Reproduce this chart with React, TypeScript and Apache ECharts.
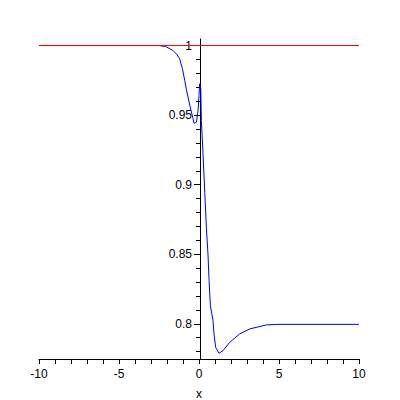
import React, { useEffect, useRef } from "react";
import * as echarts from "echarts";

const curveX = [-10, -2.5, -2.08, -1.62, -1.38, -1.21, -1.04, -0.89, -0.79, -0.58, -0.375, -0.31, -0.16, -0.06, 0.0, 0.04, 0.11, 0.15, 0.25, 0.36, 0.46, 0.56, 0.63, 0.71, 0.875, 0.94, 1.04, 1.25, 1.5, 1.92, 2.54, 3.17, 4.21, 5, 10];
const curveY = [1, 1, 0.9993, 0.9964, 0.9935, 0.9905, 0.9835, 0.9748, 0.9686, 0.9572, 0.9475, 0.9441, 0.9449, 0.9533, 0.964, 0.9725, 0.969, 0.946, 0.9221, 0.8945, 0.8694, 0.8503, 0.831, 0.8131, 0.8023, 0.7927, 0.7831, 0.7788, 0.7807, 0.7867, 0.7927, 0.7963, 0.7992, 0.7996, 0.7996];

const refLineX = [-10, 10];
const refLineY = [1, 1];

const xTickValues = [-10, -9, -8, -7, -6, -5, -4, -3, -2, -1, 0, 1, 2, 3, 4, 5, 6, 7, 8, 9, 10];
const xLabelValues = [-10, -5, 0, 5, 10];
const yMinorTickValues = [0.78, 0.79, 0.81, 0.82, 0.83, 0.84, 0.86, 0.87, 0.88, 0.89, 0.91, 0.92, 0.93, 0.94, 0.96, 0.97, 0.98, 0.99];
const yMajorTickValues = [0.8, 0.85, 0.9, 0.95, 1];

const FONT = "Liberation Sans";

export default function App() {
  const ref = useRef<HTMLDivElement>(null);
  useEffect(() => {
    document.body.style.margin = "0";
    const chart = echarts.init(ref.current!, null, { renderer: "svg" });
    const yBase = {
      type: "value",
      min: 0.7747,
      max: 1.0047,
      position: "left",
      offset: -161,
      splitLine: { show: false },
    };
    chart.setOption({
      animation: false,
      backgroundColor: "#fff",
      grid: { left: 39, right: 41, top: 39, bottom: 41, containLabel: false, outerBoundsMode: "none" },
      xAxis: {
        type: "value",
        min: -10,
        max: 10,
        name: "x",
        nameLocation: "middle",
        nameGap: 29,
        nameTextStyle: { color: "#000", fontFamily: FONT, fontSize: 12, lineHeight: 11 },
        axisLine: { show: true, onZero: false, lineStyle: { color: "#000", width: 1 } },
        axisTick: { show: true, customValues: xTickValues, length: 5, lineStyle: { color: "#000" } },
        axisLabel: { customValues: xLabelValues, margin: 9, color: "#000", fontFamily: FONT, fontSize: 12 },
        splitLine: { show: false },
      },
      yAxis: [
        {
          ...yBase,
          axisLine: { show: true, onZero: false, lineStyle: { color: "#000", width: 1 } },
          axisTick: { show: true, customValues: yMajorTickValues, length: 6, lineStyle: { color: "#000" } },
          axisLabel: { customValues: yMajorTickValues, margin: 8, color: "#000", fontFamily: FONT, fontSize: 12 },
        },
        {
          ...yBase,
          axisLine: { show: false, onZero: false },
          axisTick: { show: true, customValues: yMinorTickValues, length: 4, lineStyle: { color: "#000" } },
          axisLabel: { show: false },
        },
      ],
      series: [
        {
          type: "line",
          data: curveX.map((x, i) => [x, curveY[i]]),
          showSymbol: false,
          symbol: "none",
          lineStyle: { color: "#0000ff", width: 1 },
          z: 2,
        },
        {
          type: "line",
          data: refLineX.map((x, i) => [x, refLineY[i]]),
          showSymbol: false,
          symbol: "none",
          lineStyle: { color: "#ff0000", width: 1 },
          z: 3,
        },
      ],
    });
    return () => chart.dispose();
  }, []);
  return <div ref={ref} style={{ width: 400, height: 400 }} />;
}
